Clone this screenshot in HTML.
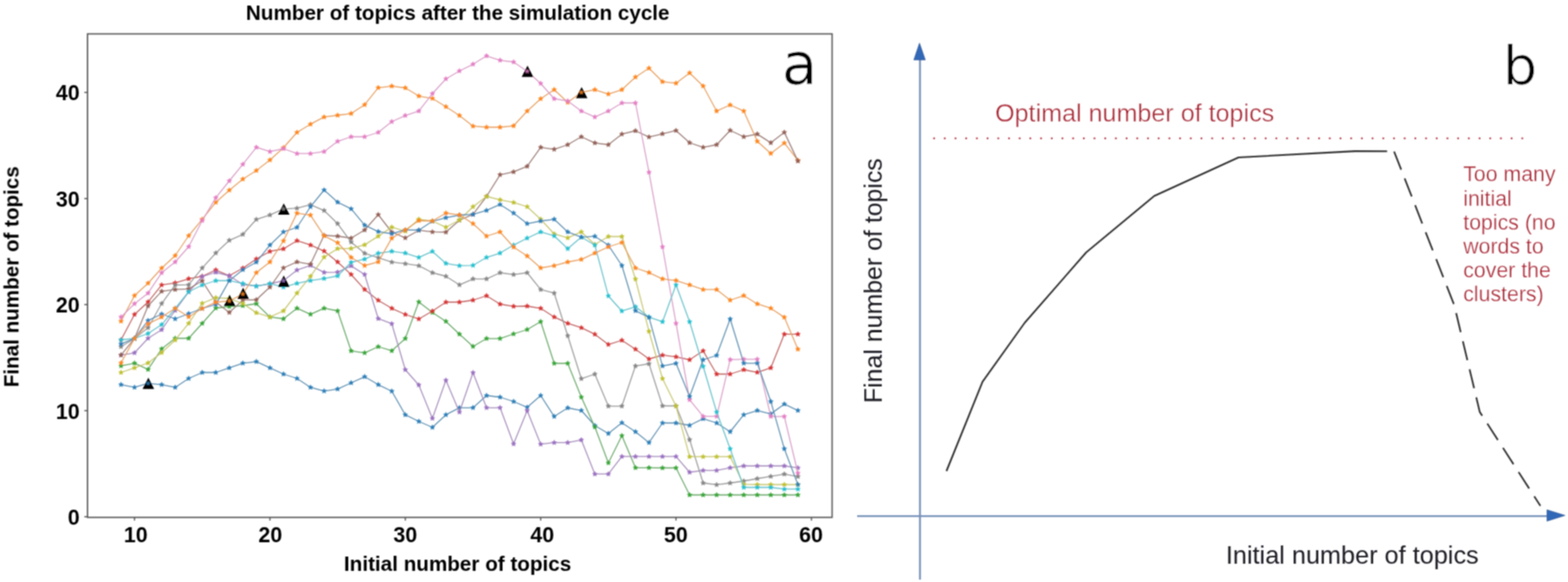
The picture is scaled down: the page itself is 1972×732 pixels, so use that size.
<!DOCTYPE html>
<html><head><meta charset="utf-8"><title>Number of topics</title>
<style>html,body{margin:0;padding:0;background:#fff;}body{width:1972px;height:732px;overflow:hidden;}svg{display:block;}</style>
</head><body>
<svg width="1972" height="732" viewBox="0 0 1972 732">
<defs>
<marker id="mB1" markerUnits="userSpaceOnUse" markerWidth="12" markerHeight="12" viewBox="-6 -6 12 12" refX="0" refY="0" overflow="visible"><path d="M0.00 -3.25 L0.92 -1.26 L3.09 -1.00 L1.48 0.48 L1.91 2.63 L0.00 1.56 L-1.91 2.63 L-1.48 0.48 L-3.09 -1.00 L-0.92 -1.26 Z" fill="#2a7eb8" stroke="#2a7eb8" stroke-width="0.5" stroke-linejoin="round"/></marker>
<marker id="mO1" markerUnits="userSpaceOnUse" markerWidth="12" markerHeight="12" viewBox="-6 -6 12 12" refX="0" refY="0" overflow="visible"><path d="M0.00 -3.25 L0.92 -1.26 L3.09 -1.00 L1.48 0.48 L1.91 2.63 L0.00 1.56 L-1.91 2.63 L-1.48 0.48 L-3.09 -1.00 L-0.92 -1.26 Z" fill="#ff851a" stroke="#ff851a" stroke-width="0.5" stroke-linejoin="round"/></marker>
<marker id="mG" markerUnits="userSpaceOnUse" markerWidth="12" markerHeight="12" viewBox="-6 -6 12 12" refX="0" refY="0" overflow="visible"><path d="M0.00 -3.25 L0.92 -1.26 L3.09 -1.00 L1.48 0.48 L1.91 2.63 L0.00 1.56 L-1.91 2.63 L-1.48 0.48 L-3.09 -1.00 L-0.92 -1.26 Z" fill="#37a537" stroke="#37a537" stroke-width="0.5" stroke-linejoin="round"/></marker>
<marker id="mR" markerUnits="userSpaceOnUse" markerWidth="12" markerHeight="12" viewBox="-6 -6 12 12" refX="0" refY="0" overflow="visible"><path d="M0.00 -3.25 L0.92 -1.26 L3.09 -1.00 L1.48 0.48 L1.91 2.63 L0.00 1.56 L-1.91 2.63 L-1.48 0.48 L-3.09 -1.00 L-0.92 -1.26 Z" fill="#d83233" stroke="#d83233" stroke-width="0.5" stroke-linejoin="round"/></marker>
<marker id="mP" markerUnits="userSpaceOnUse" markerWidth="12" markerHeight="12" viewBox="-6 -6 12 12" refX="0" refY="0" overflow="visible"><path d="M0.00 -3.25 L0.92 -1.26 L3.09 -1.00 L1.48 0.48 L1.91 2.63 L0.00 1.56 L-1.91 2.63 L-1.48 0.48 L-3.09 -1.00 L-0.92 -1.26 Z" fill="#996fc0" stroke="#996fc0" stroke-width="0.5" stroke-linejoin="round"/></marker>
<marker id="mBr" markerUnits="userSpaceOnUse" markerWidth="12" markerHeight="12" viewBox="-6 -6 12 12" refX="0" refY="0" overflow="visible"><path d="M0.00 -3.25 L0.92 -1.26 L3.09 -1.00 L1.48 0.48 L1.91 2.63 L0.00 1.56 L-1.91 2.63 L-1.48 0.48 L-3.09 -1.00 L-0.92 -1.26 Z" fill="#925e54" stroke="#925e54" stroke-width="0.5" stroke-linejoin="round"/></marker>
<marker id="mPk" markerUnits="userSpaceOnUse" markerWidth="12" markerHeight="12" viewBox="-6 -6 12 12" refX="0" refY="0" overflow="visible"><path d="M0.00 -3.25 L0.92 -1.26 L3.09 -1.00 L1.48 0.48 L1.91 2.63 L0.00 1.56 L-1.91 2.63 L-1.48 0.48 L-3.09 -1.00 L-0.92 -1.26 Z" fill="#e47ec5" stroke="#e47ec5" stroke-width="0.5" stroke-linejoin="round"/></marker>
<marker id="mGy" markerUnits="userSpaceOnUse" markerWidth="12" markerHeight="12" viewBox="-6 -6 12 12" refX="0" refY="0" overflow="visible"><path d="M0.00 -3.25 L0.92 -1.26 L3.09 -1.00 L1.48 0.48 L1.91 2.63 L0.00 1.56 L-1.91 2.63 L-1.48 0.48 L-3.09 -1.00 L-0.92 -1.26 Z" fill="#858585" stroke="#858585" stroke-width="0.5" stroke-linejoin="round"/></marker>
<marker id="mOl" markerUnits="userSpaceOnUse" markerWidth="12" markerHeight="12" viewBox="-6 -6 12 12" refX="0" refY="0" overflow="visible"><path d="M0.00 -3.25 L0.92 -1.26 L3.09 -1.00 L1.48 0.48 L1.91 2.63 L0.00 1.56 L-1.91 2.63 L-1.48 0.48 L-3.09 -1.00 L-0.92 -1.26 Z" fill="#bfc02d" stroke="#bfc02d" stroke-width="0.5" stroke-linejoin="round"/></marker>
<marker id="mC" markerUnits="userSpaceOnUse" markerWidth="12" markerHeight="12" viewBox="-6 -6 12 12" refX="0" refY="0" overflow="visible"><path d="M0.00 -3.25 L0.92 -1.26 L3.09 -1.00 L1.48 0.48 L1.91 2.63 L0.00 1.56 L-1.91 2.63 L-1.48 0.48 L-3.09 -1.00 L-0.92 -1.26 Z" fill="#23c1d1" stroke="#23c1d1" stroke-width="0.5" stroke-linejoin="round"/></marker>
<marker id="mB2" markerUnits="userSpaceOnUse" markerWidth="12" markerHeight="12" viewBox="-6 -6 12 12" refX="0" refY="0" overflow="visible"><path d="M0.00 -3.25 L0.92 -1.26 L3.09 -1.00 L1.48 0.48 L1.91 2.63 L0.00 1.56 L-1.91 2.63 L-1.48 0.48 L-3.09 -1.00 L-0.92 -1.26 Z" fill="#2a7eb8" stroke="#2a7eb8" stroke-width="0.5" stroke-linejoin="round"/></marker>
<marker id="mO2" markerUnits="userSpaceOnUse" markerWidth="12" markerHeight="12" viewBox="-6 -6 12 12" refX="0" refY="0" overflow="visible"><path d="M0.00 -3.25 L0.92 -1.26 L3.09 -1.00 L1.48 0.48 L1.91 2.63 L0.00 1.56 L-1.91 2.63 L-1.48 0.48 L-3.09 -1.00 L-0.92 -1.26 Z" fill="#ff851a" stroke="#ff851a" stroke-width="0.5" stroke-linejoin="round"/></marker>
<filter id="bl" x="-5%" y="-5%" width="110%" height="110%"><feConvolveMatrix order="3" kernelMatrix="1 2 1 2 4 2 1 2 1" divisor="16" edgeMode="duplicate"/></filter>
</defs>
<rect width="1972" height="732" fill="#fff"/>
<g filter="url(#bl)">
<text x="309.3" y="25" font-family="Liberation Sans, Arial, sans-serif" font-weight="bold" font-size="25.8" fill="#000" textLength="532.7" lengthAdjust="spacingAndGlyphs">Number of topics after the simulation cycle</text>
<polyline points="152.2,483.8 169.2,487.2 186.2,482.2 203.3,483.8 220.3,487.2 237.3,476 254.3,468.5 271.4,468.5 288.4,462.7 305.4,456.8 322.4,454.8 339.5,462.7 356.5,470.5 373.5,476 390.5,487.2 407.6,491.8 424.6,489.3 441.6,481.5 458.6,473.8 475.7,483.8 492.7,492 509.7,521.7 526.7,530 543.8,537.5 560.8,521.7 577.8,512.8 594.9,512.8 611.9,497.5 628.9,499.5 645.9,505 663,512.3 680,497.5 697,523.8 714,513 731.1,516.3 748.1,535.3 765.1,545.3 782.1,531.7 799.2,543 816.2,556.7 833.2,532 850.2,532 867.3,535 884.3,526.7 901.3,532 918.3,543 935.4,521.7 952.4,516.3 969.4,520.6 986.4,508.2 1003.5,516.3" fill="none" stroke="#588bae" stroke-width="1.3" stroke-linejoin="round" marker-start="url(#mB1)" marker-mid="url(#mB1)" marker-end="url(#mB1)"/>
<polyline points="152.2,404 169.2,371.8 186.2,356.2 203.3,337.2 220.3,321.5 237.3,296.5 254.3,275.8 271.4,254.5 288.4,239.2 305.4,225.3 322.4,214.5 339.5,201.2 356.5,185.8 373.5,166.5 390.5,156.2 407.6,147.2 424.6,145 441.6,142.8 458.6,131.7 475.7,110.3 492.7,108.3 509.7,110.5 526.7,120.8 543.8,123.8 560.8,134.2 577.8,145.3 594.9,158.7 611.9,160 628.9,160 645.9,158.3 663,139.7 680,124.2 697,112.8 714,128.8 731.1,116.2 748.1,112.8 765.1,118.3 782.1,112.8 799.2,97 816.2,85.8 833.2,102.8 850.2,104.7 867.3,91.7 884.3,108.3 901.3,139.7 918.3,132 935.4,139.7 952.4,177.8 969.4,193 986.4,179.9 1003.5,201.6" fill="none" stroke="#e69c5b" stroke-width="1.3" stroke-linejoin="round" marker-start="url(#mO1)" marker-mid="url(#mO1)" marker-end="url(#mO1)"/>
<polyline points="152.2,460.2 169.2,456.8 186.2,464.7 203.3,438.8 220.3,425.5 237.3,425.5 254.3,406.8 271.4,387.5 288.4,385.6 305.4,384.5 322.4,382 339.5,398.7 356.5,401 373.5,387.7 390.5,395.3 407.6,387.7 424.6,391 441.6,441.3 458.6,443.8 475.7,436 492.7,441.2 509.7,425.8 526.7,379.7 543.8,393 560.8,404.2 577.8,420.3 594.9,435.8 611.9,425.8 628.9,425.8 645.9,420 663,414.5 680,404.5 697,457 714,457 731.1,499.5 748.1,537 765.1,582.2 782.1,548 799.2,588.3 816.2,588.3 833.2,588.5 850.2,588.5 867.3,622.5 884.3,622.5 901.3,622.5 918.3,622.5 935.4,622.5 952.4,622.5 969.4,622.5 986.4,622.5 1003.5,622.5" fill="none" stroke="#63a563" stroke-width="1.3" stroke-linejoin="round" marker-start="url(#mG)" marker-mid="url(#mG)" marker-end="url(#mG)"/>
<polyline points="152.2,427.5 169.2,395.5 186.2,379.8 203.3,358.4 220.3,355.8 237.3,350.6 254.3,347.5 271.4,339.5 288.4,346.8 305.4,337.2 322.4,325.7 339.5,316.2 356.5,313 373.5,302.7 390.5,308.2 407.6,315.8 424.6,329.5 441.6,345.2 458.6,364.1 475.7,377.7 492.7,387.8 509.7,395.5 526.7,401.2 543.8,391.3 560.8,380 577.8,380 594.9,377.5 611.9,372 628.9,382.5 645.9,385.3 663,385 680,387.8 697,398.7 714,406.7 731.1,412.2 748.1,420.4 765.1,433.3 782.1,428 799.2,439.2 816.2,451.5 833.2,446.7 850.2,448.8 867.3,452.5 884.3,441.3 901.3,470.5 918.3,470.5 935.4,465 952.4,468.3 969.4,462.7 986.4,420.3 1003.5,420.3" fill="none" stroke="#bf5b5b" stroke-width="1.3" stroke-linejoin="round" marker-start="url(#mR)" marker-mid="url(#mR)" marker-end="url(#mR)"/>
<polyline points="152.2,446.6 169.2,443.8 186.2,425.5 203.3,414.7 220.3,390.5 237.3,367.2 254.3,347.8 271.4,342.5 288.4,347 305.4,357.8 322.4,359.8 339.5,357 356.5,353 373.5,339.7 390.5,333.8 407.6,342.6 424.6,342.3 441.6,334.4 458.6,345.2 475.7,400.7 492.7,407.2 509.7,465 526.7,484.2 543.8,526.2 560.8,478.3 577.8,518.3 594.9,468.7 611.9,512.8 628.9,512.8 645.9,558.3 663,516.5 680,558.7 697,556.7 714,556.7 731.1,553.3 748.1,596.2 765.1,596.2 782.1,574.2 799.2,574.2 816.2,574.2 833.2,574.2 850.2,574.2 867.3,594 884.3,591.7 901.3,591.7 918.3,588.3 935.4,586 952.4,586 969.4,586 986.4,586 1003.5,588.4" fill="none" stroke="#a288b9" stroke-width="1.3" stroke-linejoin="round" marker-start="url(#mP)" marker-mid="url(#mP)" marker-end="url(#mP)"/>
<polyline points="152.2,446.6 169.2,425.7 186.2,384.8 203.3,366.4 220.3,364.2 237.3,363.3 254.3,353.3 271.4,380 288.4,393 305.4,377.4 322.4,377 339.5,361.1 356.5,337 373.5,329.4 390.5,332.3 407.6,296 424.6,297 441.6,299.5 458.6,289.3 475.7,270 492.7,292 509.7,299.2 526.7,289.7 543.8,291.7 560.8,292 577.8,277 594.9,269.7 611.9,247 628.9,219.8 645.9,216.2 663,209.2 680,185.3 697,187.8 714,182 731.1,172 748.1,179.8 765.1,182 782.1,168.7 799.2,164.5 816.2,172.3 833.2,168.3 850.2,164.2 867.3,179.5 884.3,185.3 901.3,182 918.3,164 935.4,172 952.4,168.6 969.4,179.6 986.4,166.4 1003.5,202.6" fill="none" stroke="#977872" stroke-width="1.3" stroke-linejoin="round" marker-start="url(#mBr)" marker-mid="url(#mBr)" marker-end="url(#mBr)"/>
<polyline points="152.2,398.7 169.2,382 186.2,368.7 203.3,343.1 220.3,329.5 237.3,310.3 254.3,277.5 271.4,248.7 288.4,227.5 305.4,206.7 322.4,185.3 339.5,190.7 356.5,187 373.5,193.2 390.5,193.2 407.6,190.7 424.6,177.8 441.6,172 458.6,172 475.7,166.5 492.7,153 509.7,145.3 526.7,139.7 543.8,117.8 560.8,99.2 577.8,89.2 594.9,80.8 611.9,70.3 628.9,75.8 645.9,78 663,89.7 680,105 697,124.2 714,127 731.1,139.7 748.1,147.2 765.1,139.7 782.1,129.5 799.2,129.5 816.2,216.7 833.2,310.5 850.2,406.7 867.3,502.8 884.3,523.7 901.3,523.7 918.3,452.3 935.4,451.8 952.4,451.8 969.4,523.8 986.4,523.8 1003.5,595" fill="none" stroke="#d89ac5" stroke-width="1.3" stroke-linejoin="round" marker-start="url(#mPk)" marker-mid="url(#mPk)" marker-end="url(#mPk)"/>
<polyline points="152.2,436 169.2,425.7 186.2,412.2 203.3,381.8 220.3,358.5 237.3,358.2 254.3,337.1 271.4,318.2 288.4,302.3 305.4,294.8 322.4,276 339.5,270.4 356.5,262.8 373.5,261.9 390.5,257.4 407.6,264.8 424.6,281.3 441.6,304.5 458.6,318.6 475.7,324.1 492.7,329.7 509.7,331.7 526.7,334.2 543.8,343 560.8,347.5 577.8,358.3 594.9,350.8 611.9,350.8 628.9,343 645.9,345.3 663,343 680,364.2 697,368.7 714,422.3 731.1,476.3 748.1,470.5 765.1,510.8 782.1,510.8 799.2,460.3 816.2,457.5 833.2,510.5 850.2,510.5 867.3,553 884.3,607.5 901.3,609.7 918.3,607.5 935.4,605 952.4,602 969.4,599.2 986.4,596.3 1003.5,599.4" fill="none" stroke="#969696" stroke-width="1.3" stroke-linejoin="round" marker-start="url(#mGy)" marker-mid="url(#mGy)" marker-end="url(#mGy)"/>
<polyline points="152.2,468.5 169.2,462.7 186.2,456.5 203.3,443.5 220.3,427.7 237.3,406.7 254.3,381.5 271.4,374.4 288.4,375.5 305.4,381.8 322.4,393.4 339.5,398.7 356.5,391 373.5,368.7 390.5,347.6 407.6,323.4 424.6,312.7 441.6,312.5 458.6,307.9 475.7,297.1 492.7,285.7 509.7,290.8 526.7,275.8 543.8,278 560.8,285.8 577.8,276.7 594.9,260 611.9,247 628.9,251.3 645.9,254.7 663,260 680,275.8 697,294.2 714,299.2 731.1,291.7 748.1,307.5 765.1,297.5 782.1,297.5 799.2,351 816.2,416.7 833.2,476.2 850.2,510.8 867.3,574.4 884.3,574.4 901.3,574.4 918.3,574.4 935.4,609.2 952.4,609.5 969.4,609.5 986.4,609.5 1003.5,609.5" fill="none" stroke="#c4c46b" stroke-width="1.3" stroke-linejoin="round" marker-start="url(#mOl)" marker-mid="url(#mOl)" marker-end="url(#mOl)"/>
<polyline points="152.2,427.5 169.2,425.7 186.2,419.5 203.3,408.3 220.3,388 237.3,367 254.3,358.5 271.4,353 288.4,352.8 305.4,356.6 322.4,360 339.5,356.7 356.5,361.1 373.5,356.4 390.5,352.9 407.6,350.3 424.6,347 441.6,330 458.6,325.9 475.7,318.5 492.7,316.1 509.7,318.3 526.7,323.8 543.8,316.2 560.8,331.3 577.8,334.2 594.9,333.8 611.9,323.8 628.9,318.3 645.9,308.3 663,299.5 680,291.7 697,296.7 714,312.8 731.1,298.3 748.1,308.3 765.1,372.2 782.1,391.2 799.2,385.8 816.2,398.8 833.2,404.7 850.2,358.3 867.3,404.7 884.3,460.8 901.3,518.3 918.3,564.5 935.4,613 952.4,613 969.4,613 986.4,615.2 1003.5,615.2" fill="none" stroke="#5ebec8" stroke-width="1.3" stroke-linejoin="round" marker-start="url(#mC)" marker-mid="url(#mC)" marker-end="url(#mC)"/>
<polyline points="152.2,432.7 169.2,425.7 186.2,403.2 203.3,395 220.3,401 237.3,394.5 254.3,388 271.4,382.9 288.4,352.9 305.4,339.2 322.4,329.7 339.5,308.2 356.5,291.7 373.5,286 390.5,260 407.6,239 424.6,254.3 441.6,262.7 458.6,283.2 475.7,291.3 492.7,294 509.7,289.2 526.7,289.5 543.8,278.3 560.8,273.8 577.8,270.5 594.9,269.7 611.9,264.7 628.9,257.2 645.9,268 663,281.3 680,278 697,275.8 714,291.7 731.1,298.3 748.1,297.2 765.1,308.3 782.1,334 799.2,390.8 816.2,399.2 833.2,460.3 850.2,457 867.3,498.8 884.3,452.5 901.3,447 918.3,401.2 935.4,456.8 952.4,456.8 969.4,505 986.4,564.4 1003.5,609.4" fill="none" stroke="#588bae" stroke-width="1.3" stroke-linejoin="round" marker-start="url(#mB2)" marker-mid="url(#mB2)" marker-end="url(#mB2)"/>
<polyline points="152.2,456.5 169.2,425.7 186.2,407.3 203.3,398.8 220.3,387.8 237.3,398.5 254.3,388 271.4,380.2 288.4,378.5 305.4,369.8 322.4,342.9 339.5,329.5 356.5,303 373.5,268.1 390.5,270.6 407.6,296.6 424.6,305.3 441.6,323.8 458.6,334 475.7,329.4 492.7,299.6 509.7,289.2 526.7,277.5 543.8,278 560.8,268 577.8,270.3 594.9,281.3 611.9,297 628.9,291.7 645.9,310.8 663,322 680,337 697,334.2 714,329.5 731.1,326.3 748.1,318.3 765.1,310.5 782.1,305 799.2,337 816.2,342.8 833.2,350.8 850.2,352.8 867.3,358.3 884.3,364.2 901.3,364.2 918.3,377.5 935.4,371.8 952.4,382.2 969.4,387.7 986.4,399.1 1003.5,439.2" fill="none" stroke="#e69c5b" stroke-width="1.3" stroke-linejoin="round" marker-start="url(#mO2)" marker-mid="url(#mO2)" marker-end="url(#mO2)"/>
<path d="M186.6 475.1 L179.3 489.3 L193.9 489.3 Z" fill="#000"/>
<path d="M288.8 370.8 L281.5 385 L296.1 385 Z" fill="#000"/>
<path d="M305.8 361.8 L298.5 376 L313.1 376 Z" fill="#000"/>
<path d="M356.9 255.8 L349.6 270 L364.2 270 Z" fill="#000"/>
<path d="M356.9 346.5 L349.6 360.7 L364.2 360.7 Z" fill="#000"/>
<path d="M663.4 82.6 L656.1 96.8 L670.7 96.8 Z" fill="#000"/>
<path d="M731.5 109.4 L724.2 123.6 L738.8 123.6 Z" fill="#000"/>
<path transform="translate(186.2,482.2)" d="M0.00 -3.25 L0.92 -1.26 L3.09 -1.00 L1.48 0.48 L1.91 2.63 L0.00 1.56 L-1.91 2.63 L-1.48 0.48 L-3.09 -1.00 L-0.92 -1.26 Z" fill="#2a7eb8" opacity="0.85"/>
<path transform="translate(288.4,378.5)" d="M0.00 -3.25 L0.92 -1.26 L3.09 -1.00 L1.48 0.48 L1.91 2.63 L0.00 1.56 L-1.91 2.63 L-1.48 0.48 L-3.09 -1.00 L-0.92 -1.26 Z" fill="#ff851a" opacity="0.85"/>
<path transform="translate(305.4,369.8)" d="M0.00 -3.25 L0.92 -1.26 L3.09 -1.00 L1.48 0.48 L1.91 2.63 L0.00 1.56 L-1.91 2.63 L-1.48 0.48 L-3.09 -1.00 L-0.92 -1.26 Z" fill="#ff851a" opacity="0.85"/>
<path transform="translate(356.5,262.8)" d="M0.00 -3.25 L0.92 -1.26 L3.09 -1.00 L1.48 0.48 L1.91 2.63 L0.00 1.56 L-1.91 2.63 L-1.48 0.48 L-3.09 -1.00 L-0.92 -1.26 Z" fill="#858585" opacity="0.85"/>
<path transform="translate(356.5,353)" d="M0.00 -3.25 L0.92 -1.26 L3.09 -1.00 L1.48 0.48 L1.91 2.63 L0.00 1.56 L-1.91 2.63 L-1.48 0.48 L-3.09 -1.00 L-0.92 -1.26 Z" fill="#996fc0" opacity="0.85"/>
<path transform="translate(663,89.7)" d="M0.00 -3.25 L0.92 -1.26 L3.09 -1.00 L1.48 0.48 L1.91 2.63 L0.00 1.56 L-1.91 2.63 L-1.48 0.48 L-3.09 -1.00 L-0.92 -1.26 Z" fill="#e47ec5" opacity="0.85"/>
<path transform="translate(731.1,116.2)" d="M0.00 -3.25 L0.92 -1.26 L3.09 -1.00 L1.48 0.48 L1.91 2.63 L0.00 1.56 L-1.91 2.63 L-1.48 0.48 L-3.09 -1.00 L-0.92 -1.26 Z" fill="#ff851a" opacity="0.85"/>
<rect x="110.1" y="42.6" width="936.4" height="608.1" fill="none" stroke="#555" stroke-width="1.7"/>
<line x1="106" y1="649.9" x2="110.1" y2="649.9" stroke="#555" stroke-width="1.5"/>
<text x="100.2" y="660" text-anchor="end" font-family="Liberation Sans, Arial, sans-serif" font-weight="bold" font-size="26.9" fill="#000">0</text>
<line x1="106" y1="516.5" x2="110.1" y2="516.5" stroke="#555" stroke-width="1.5"/>
<text x="100.2" y="526.6" text-anchor="end" font-family="Liberation Sans, Arial, sans-serif" font-weight="bold" font-size="26.9" fill="#000">10</text>
<line x1="106" y1="383.1" x2="110.1" y2="383.1" stroke="#555" stroke-width="1.5"/>
<text x="100.2" y="393.2" text-anchor="end" font-family="Liberation Sans, Arial, sans-serif" font-weight="bold" font-size="26.9" fill="#000">20</text>
<line x1="106" y1="249.7" x2="110.1" y2="249.7" stroke="#555" stroke-width="1.5"/>
<text x="100.2" y="259.8" text-anchor="end" font-family="Liberation Sans, Arial, sans-serif" font-weight="bold" font-size="26.9" fill="#000">30</text>
<line x1="106" y1="116.3" x2="110.1" y2="116.3" stroke="#555" stroke-width="1.5"/>
<text x="100.2" y="126.4" text-anchor="end" font-family="Liberation Sans, Arial, sans-serif" font-weight="bold" font-size="26.9" fill="#000">40</text>
<line x1="169.2" y1="650.7" x2="169.2" y2="654.8" stroke="#555" stroke-width="1.5"/>
<text x="170.7" y="681.6" text-anchor="middle" font-family="Liberation Sans, Arial, sans-serif" font-weight="bold" font-size="26.9" fill="#000">10</text>
<line x1="339.5" y1="650.7" x2="339.5" y2="654.8" stroke="#555" stroke-width="1.5"/>
<text x="340" y="681.6" text-anchor="middle" font-family="Liberation Sans, Arial, sans-serif" font-weight="bold" font-size="26.9" fill="#000">20</text>
<line x1="509.7" y1="650.7" x2="509.7" y2="654.8" stroke="#555" stroke-width="1.5"/>
<text x="509.7" y="681.6" text-anchor="middle" font-family="Liberation Sans, Arial, sans-serif" font-weight="bold" font-size="26.9" fill="#000">30</text>
<line x1="680" y1="650.7" x2="680" y2="654.8" stroke="#555" stroke-width="1.5"/>
<text x="682" y="681.6" text-anchor="middle" font-family="Liberation Sans, Arial, sans-serif" font-weight="bold" font-size="26.9" fill="#000">40</text>
<line x1="850.2" y1="650.7" x2="850.2" y2="654.8" stroke="#555" stroke-width="1.5"/>
<text x="850" y="681.6" text-anchor="middle" font-family="Liberation Sans, Arial, sans-serif" font-weight="bold" font-size="26.9" fill="#000">50</text>
<line x1="1020.5" y1="650.7" x2="1020.5" y2="654.8" stroke="#555" stroke-width="1.5"/>
<text x="1020" y="681.6" text-anchor="middle" font-family="Liberation Sans, Arial, sans-serif" font-weight="bold" font-size="26.9" fill="#000">60</text>
<text x="432.6" y="718" font-family="Liberation Sans, Arial, sans-serif" font-weight="bold" font-size="25.6" fill="#000" textLength="285.8" lengthAdjust="spacingAndGlyphs">Initial number of topics</text>
<text transform="translate(23.3,487) rotate(-90)" x="0" y="0" font-family="Liberation Sans, Arial, sans-serif" font-weight="bold" font-size="25.6" fill="#000" textLength="277.9" lengthAdjust="spacingAndGlyphs">Final number of topics</text>
<text x="983.3" y="105.7" font-family="DejaVu Sans, sans-serif" font-size="72.8" fill="#000" stroke="#fff" stroke-width="0.7">a</text>
<line x1="1157" y1="72" x2="1157" y2="729" stroke="#7791b9" stroke-width="2.4"/>
<path d="M1156.4 54.3 L1149.3 75.3 L1163.7 75.3 Z" fill="#3068b8" stroke="#284f8e" stroke-width="0.7" stroke-linejoin="round"/>
<line x1="1078" y1="649.1" x2="1948" y2="649.1" stroke="#7791b9" stroke-width="2.4"/>
<path d="M1968.2 648.3 L1945.6 641.2 L1945.6 655.4 Z" fill="#3068b8" stroke="#284f8e" stroke-width="0.7" stroke-linejoin="round"/>
<g fill="#b83a48"><circle cx="1174.8" cy="174" r="1.2"/><circle cx="1188.2" cy="174" r="1.2"/><circle cx="1201.7" cy="174" r="1.2"/><circle cx="1215.1" cy="174" r="1.2"/><circle cx="1228.6" cy="174" r="1.2"/><circle cx="1242" cy="174" r="1.2"/><circle cx="1255.5" cy="174" r="1.2"/><circle cx="1269" cy="174" r="1.2"/><circle cx="1282.4" cy="174" r="1.2"/><circle cx="1295.8" cy="174" r="1.2"/><circle cx="1309.3" cy="174" r="1.2"/><circle cx="1322.8" cy="174" r="1.2"/><circle cx="1336.2" cy="174" r="1.2"/><circle cx="1349.6" cy="174" r="1.2"/><circle cx="1363.1" cy="174" r="1.2"/><circle cx="1376.5" cy="174" r="1.2"/><circle cx="1390" cy="174" r="1.2"/><circle cx="1403.4" cy="174" r="1.2"/><circle cx="1416.9" cy="174" r="1.2"/><circle cx="1430.3" cy="174" r="1.2"/><circle cx="1443.8" cy="174" r="1.2"/><circle cx="1457.2" cy="174" r="1.2"/><circle cx="1470.7" cy="174" r="1.2"/><circle cx="1484.1" cy="174" r="1.2"/><circle cx="1497.6" cy="174" r="1.2"/><circle cx="1511" cy="174" r="1.2"/><circle cx="1524.5" cy="174" r="1.2"/><circle cx="1537.9" cy="174" r="1.2"/><circle cx="1551.4" cy="174" r="1.2"/><circle cx="1564.8" cy="174" r="1.2"/><circle cx="1578.3" cy="174" r="1.2"/><circle cx="1591.8" cy="174" r="1.2"/><circle cx="1605.2" cy="174" r="1.2"/><circle cx="1618.6" cy="174" r="1.2"/><circle cx="1632.1" cy="174" r="1.2"/><circle cx="1645.5" cy="174" r="1.2"/><circle cx="1659" cy="174" r="1.2"/><circle cx="1672.4" cy="174" r="1.2"/><circle cx="1685.9" cy="174" r="1.2"/><circle cx="1699.3" cy="174" r="1.2"/><circle cx="1712.8" cy="174" r="1.2"/><circle cx="1726.2" cy="174" r="1.2"/><circle cx="1739.7" cy="174" r="1.2"/><circle cx="1753.2" cy="174" r="1.2"/><circle cx="1766.6" cy="174" r="1.2"/><circle cx="1780" cy="174" r="1.2"/><circle cx="1793.5" cy="174" r="1.2"/><circle cx="1806.9" cy="174" r="1.2"/><circle cx="1820.4" cy="174" r="1.2"/><circle cx="1833.8" cy="174" r="1.2"/><circle cx="1847.3" cy="174" r="1.2"/><circle cx="1860.8" cy="174" r="1.2"/><circle cx="1874.2" cy="174" r="1.2"/><circle cx="1887.6" cy="174" r="1.2"/><circle cx="1901.1" cy="174" r="1.2"/><circle cx="1914.5" cy="174" r="1.2"/></g>
<text x="1251.5" y="152.5" font-family="Liberation Sans, Arial, sans-serif" font-size="31" fill="#a80c22" stroke="#fff" stroke-width="0.35" textLength="351" lengthAdjust="spacingAndGlyphs">Optimal number of topics</text>
<text x="1840.2" y="227.6" font-family="Liberation Sans, Arial, sans-serif" font-size="26.8" fill="#a80c22" stroke="#fff" stroke-width="0.3">Too many</text>
<text x="1840.2" y="258.5" font-family="Liberation Sans, Arial, sans-serif" font-size="26.8" fill="#a80c22" stroke="#fff" stroke-width="0.3">initial</text>
<text x="1840.2" y="288.6" font-family="Liberation Sans, Arial, sans-serif" font-size="26.8" fill="#a80c22" stroke="#fff" stroke-width="0.3">topics (no</text>
<text x="1840.2" y="319.1" font-family="Liberation Sans, Arial, sans-serif" font-size="26.8" fill="#a80c22" stroke="#fff" stroke-width="0.3">words to</text>
<text x="1840.2" y="348.6" font-family="Liberation Sans, Arial, sans-serif" font-size="26.8" fill="#a80c22" stroke="#fff" stroke-width="0.3">cover the</text>
<text x="1840.2" y="378.6" font-family="Liberation Sans, Arial, sans-serif" font-size="26.8" fill="#a80c22" stroke="#fff" stroke-width="0.3">clusters)</text>
<polyline points="1190.3,592.5 1235.7,480.2 1288.7,406 1366,317.5 1451.6,246.5 1557.6,198 1704,190.1 1744.5,190.3" fill="none" stroke="#2b2b2b" stroke-width="2.1" stroke-linejoin="round"/>
<polyline points="1753.3,190.6 1829,384 1861,518 1937.3,636.3" fill="none" stroke="#2b2b2b" stroke-width="2.1" stroke-dasharray="24.5 11.8"/>
<text x="1541.7" y="709.3" font-family="Liberation Sans, Arial, sans-serif" font-size="31.2" fill="#1a1a22" textLength="318" lengthAdjust="spacingAndGlyphs">Initial number of topics</text>
<text transform="translate(1108.6,507) rotate(-90)" font-family="Liberation Sans, Arial, sans-serif" font-size="30.8" fill="#1a1a22" textLength="308" lengthAdjust="spacingAndGlyphs">Final number of topics</text>
<text x="1890" y="106.8" font-family="DejaVu Sans, sans-serif" font-size="68.2" fill="#000" stroke="#fff" stroke-width="0.7">b</text>
</g>
</svg>
</body></html>
